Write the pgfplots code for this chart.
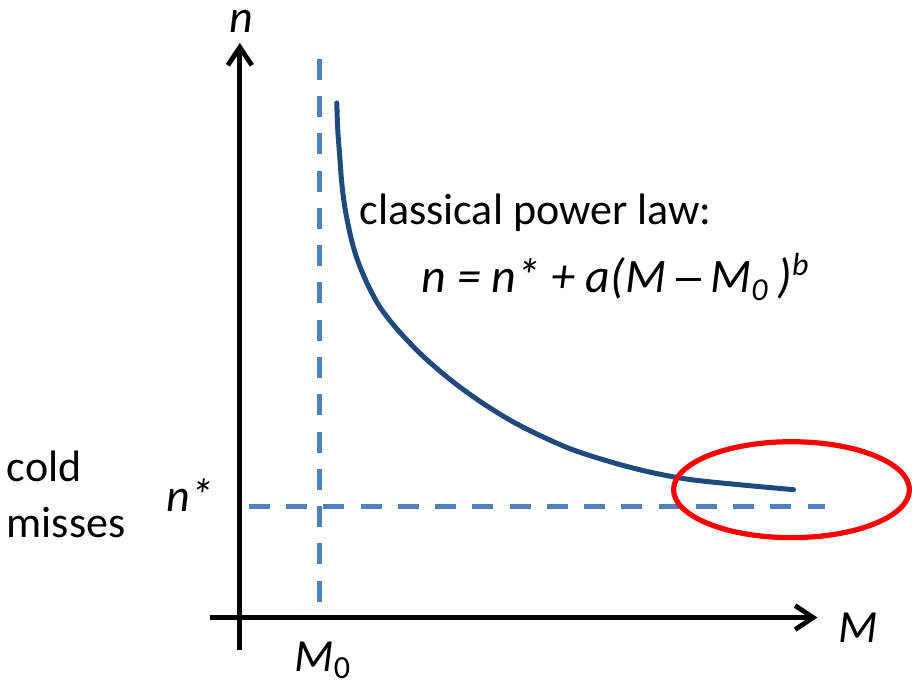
\documentclass[border=0pt]{standalone}
\usepackage{pgfplots}
\pgfplotsset{compat=1.18}
\usepackage{fontspec}
\setmainfont{Carlito}
\usetikzlibrary{arrows.meta}
\definecolor{dashblue}{HTML}{4F81BD}
\definecolor{curveblue}{HTML}{1F4A7E}
\pgfplotstableread{
x y
337 103
338 130
340 157
342 183
345 207
349 228
353 245
358 261
364 276
371 291
380 307
392 323
407 340
425 358
447 377
468 393
490 408
515 423
543 437
573 450
607 461
640 470
673 477
700 481
750 486
794 490
}\curvedata
\begin{document}
\begin{tikzpicture}
\begin{axis}[
  x=0.25pt, y=0.25pt, y dir=reverse,
  xmin=0, xmax=912, ymin=0, ymax=686,
  axis lines=none, clip=false, scale only axis,
]
\path (axis cs:0,0) rectangle (axis cs:912,686);
% dashed guides
\addplot[dashblue, line width=1.25pt, dash pattern=on 5.25pt off 4.07pt] coordinates {(320,59) (320,602)};
\addplot[dashblue, line width=1.25pt, dash pattern=on 5.25pt off 4.07pt] coordinates {(249,507) (826,507)};
% axes
\draw[line width=1.2pt, -{Straight Barb[length=4.5pt,width=6pt,line width=1.2pt]}] (axis cs:240,650) -- (axis cs:240,43);
\draw[line width=1.2pt, -{Straight Barb[length=4.5pt,width=6pt,line width=1.2pt]}] (axis cs:210,618) -- (axis cs:818,618);
% curve
\addplot[curveblue, line width=1.25pt, smooth, tension=0.6, line cap=round] table[x=x,y=y] {\curvedata};
% ellipse
\draw[red, line width=1.3pt] (axis cs:792,490) ellipse [x radius=29.5pt, y radius=12pt];
% labels
\node[anchor=base west, inner sep=0pt, font=\fontsize{11.5}{13}\selectfont\itshape] at (axis cs:229,33) {n};
\node[anchor=base west, inner sep=0pt, font=\fontsize{11.5}{13}\selectfont\itshape] at (axis cs:838,643) {M};
\node[anchor=base west, inner sep=0pt, font=\fontsize{11.5}{13}\selectfont] at (axis cs:294,672) {\textit{M}\textsubscript{0}};
\node[anchor=base west, inner sep=0pt, font=\fontsize{11.5}{13}\selectfont\itshape] at (axis cs:166,512) {n*};
\node[anchor=base west, inner sep=0pt, font=\fontsize{11}{13}\selectfont] at (axis cs:6,482) {cold};
\node[anchor=base west, inner sep=0pt, font=\fontsize{11}{13}\selectfont] at (axis cs:6,538) {misses};
\node[anchor=base west, inner sep=0pt, font=\fontsize{11}{13}\selectfont] at (axis cs:359,225) {classical power law:};
\node[anchor=base west, inner sep=0pt, font=\fontsize{12}{14}\selectfont\itshape] at (axis cs:421,293) {n = n* + a(M\hspace{0.2em}\rule[0.24em]{0.52em}{0.065em}\hspace{0.2em}M\textsubscript{0}\,)\textsuperscript{b}};
\end{axis}
\end{tikzpicture}
\end{document}
